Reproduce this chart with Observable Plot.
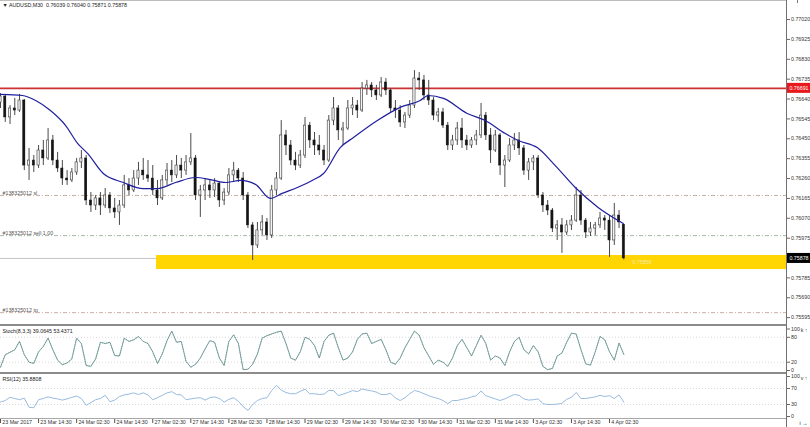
<!DOCTYPE html>
<html><head><meta charset="utf-8">
<script src="https://cdn.jsdelivr.net/npm/d3@7"></script>
<script src="https://cdn.jsdelivr.net/npm/@observablehq/plot@0.6"></script>
<style>
html,body{margin:0;padding:0;background:#fff;}
#chart{position:relative;width:810px;height:427px;overflow:hidden;background:#fff;}
.panel{position:absolute;left:0;}
.line{position:absolute;}
</style></head><body><div id="chart"></div>
<script>
// ---------- DATA ----------
const symbol = "AUDUSD,M30";
const opens = [0.76623,0.76652,0.76552,0.76595,0.76585,0.76633,0.76322,0.76346,0.76322,0.76394,
0.76356,0.76442,0.76346,0.76308,0.76260,0.76251,0.76289,0.76337,0.76356,0.76155,
0.76131,0.76165,0.76131,0.76179,0.76117,0.76098,0.76131,0.76227,0.76203,0.76260,
0.76298,0.76275,0.76260,0.76203,0.76165,0.76251,0.76298,0.76275,0.76322,0.76298,
0.76337,0.76356,0.76179,0.76203,0.76227,0.76203,0.76236,0.76155,0.76193,0.76275,
0.76298,0.76260,0.76179,0.76036,0.75940,0.76012,0.76050,0.75988,0.76203,0.76260,
0.76466,0.76418,0.76346,0.76322,0.76370,0.76513,0.76442,0.76418,0.76394,0.76346,
0.76537,0.76595,0.76490,0.76499,0.76595,0.76609,0.76585,0.76690,0.76705,0.76681,
0.76657,0.76719,0.76681,0.76595,0.76585,0.76528,0.76561,0.76609,0.76738,0.76729,
0.76657,0.76633,0.76561,0.76576,0.76513,0.76418,0.76442,0.76499,0.76442,0.76418,
0.76442,0.76466,0.76561,0.76466,0.76394,0.76466,0.76322,0.76346,0.76418,0.76442,
0.76404,0.76298,0.76337,0.76356,0.76179,0.76131,0.76107,0.76021,0.76036,0.76002,
0.76036,0.76059,0.76179,0.76059,0.76002,0.76021,0.76036,0.76069,0.76059,0.75964,
0.76083,0.76039];
const highs = [0.76666,0.76657,0.76609,0.76643,0.76662,0.76638,0.76404,0.76370,0.76418,0.76442,
0.76499,0.76466,0.76385,0.76346,0.76298,0.76308,0.76356,0.76394,0.76370,0.76193,
0.76179,0.76193,0.76212,0.76193,0.76165,0.76155,0.76275,0.76260,0.76298,0.76337,
0.76356,0.76346,0.76322,0.76251,0.76275,0.76332,0.76346,0.76370,0.76356,0.76370,
0.76475,0.76370,0.76227,0.76260,0.76251,0.76260,0.76241,0.76212,0.76308,0.76337,
0.76308,0.76289,0.76193,0.76050,0.76050,0.76083,0.76069,0.76227,0.76289,0.76537,
0.76490,0.76442,0.76385,0.76394,0.76552,0.76528,0.76480,0.76466,0.76418,0.76561,
0.76647,0.76609,0.76528,0.76633,0.76647,0.76633,0.76719,0.76729,0.76719,0.76705,
0.76743,0.76738,0.76690,0.76633,0.76609,0.76576,0.76633,0.76776,0.76767,0.76753,
0.76729,0.76647,0.76595,0.76595,0.76528,0.76466,0.76528,0.76547,0.76466,0.76456,
0.76490,0.76619,0.76576,0.76499,0.76490,0.76475,0.76370,0.76451,0.76475,0.76480,
0.76418,0.76356,0.76370,0.76370,0.76193,0.76155,0.76117,0.76059,0.76069,0.76059,
0.76083,0.76217,0.76203,0.76069,0.76050,0.76050,0.76098,0.76083,0.76083,0.76141,
0.76107,0.76040];
const lows = [0.76595,0.76528,0.76518,0.76561,0.76576,0.76298,0.76251,0.76289,0.76308,0.76322,
0.76346,0.76322,0.76289,0.76227,0.76227,0.76241,0.76275,0.76308,0.76131,0.76098,
0.76107,0.76083,0.76117,0.76093,0.76069,0.76036,0.76117,0.76179,0.76193,0.76227,
0.76251,0.76241,0.76179,0.76131,0.76155,0.76227,0.76241,0.76260,0.76260,0.76275,
0.76322,0.76155,0.76074,0.76155,0.76165,0.76169,0.76122,0.76131,0.76179,0.76241,
0.76241,0.76155,0.76021,0.75868,0.75926,0.75988,0.75964,0.75973,0.76179,0.76251,
0.76370,0.76322,0.76298,0.76308,0.76356,0.76404,0.76370,0.76370,0.76322,0.76337,
0.76513,0.76442,0.76418,0.76490,0.76561,0.76547,0.76576,0.76657,0.76647,0.76633,
0.76647,0.76657,0.76576,0.76547,0.76504,0.76499,0.76547,0.76595,0.76681,0.76633,
0.76609,0.76537,0.76528,0.76499,0.76394,0.76394,0.76418,0.76404,0.76394,0.76404,
0.76418,0.76451,0.76442,0.76332,0.76385,0.76275,0.76217,0.76337,0.76394,0.76370,
0.76275,0.76251,0.76298,0.76165,0.76098,0.76083,0.76002,0.75964,0.75902,0.75988,
0.76012,0.76050,0.76036,0.75973,0.75983,0.75988,0.76021,0.76012,0.75883,0.75940,
0.76021,0.75871];
const closes = [0.76652,0.76552,0.76595,0.76585,0.76633,0.76322,0.76346,0.76322,0.76394,0.76356,
0.76442,0.76346,0.76308,0.76260,0.76251,0.76289,0.76337,0.76356,0.76155,0.76131,
0.76165,0.76131,0.76179,0.76117,0.76098,0.76131,0.76227,0.76203,0.76260,0.76298,
0.76275,0.76260,0.76203,0.76165,0.76251,0.76298,0.76275,0.76322,0.76298,0.76337,
0.76356,0.76179,0.76203,0.76227,0.76203,0.76236,0.76155,0.76193,0.76275,0.76298,
0.76260,0.76179,0.76036,0.75940,0.76012,0.76050,0.75988,0.76203,0.76260,0.76466,
0.76418,0.76346,0.76322,0.76370,0.76513,0.76442,0.76418,0.76394,0.76346,0.76537,
0.76595,0.76490,0.76499,0.76595,0.76609,0.76585,0.76690,0.76705,0.76681,0.76657,
0.76719,0.76681,0.76595,0.76585,0.76528,0.76561,0.76609,0.76738,0.76729,0.76657,
0.76633,0.76561,0.76576,0.76513,0.76418,0.76442,0.76499,0.76442,0.76418,0.76442,
0.76466,0.76561,0.76466,0.76394,0.76466,0.76322,0.76346,0.76418,0.76442,0.76404,
0.76298,0.76337,0.76356,0.76179,0.76131,0.76107,0.76021,0.76036,0.76002,0.76036,
0.76059,0.76179,0.76059,0.76002,0.76021,0.76036,0.76069,0.76059,0.75964,0.76083,
0.76050,0.75878];

// moving average, positions in candle index units
const maIdx = [0,4.6,7.4,10.5,13.7,16.2,18.3,21.6,25.8,30,33,36.8,41,44.1,47.3,50.4,53.6,56.7,59.2,62.4,65.5,67.9,71.4,74.2,79.2,84,88.2,89.9,93.1,98.1,101.9,106.1,108.8,112.8,116.6,120.8,125.6,130.9];
const maVals = [0.76662,0.76657,0.76633,0.76585,0.76513,0.76428,0.76380,0.76284,0.76241,0.76212,0.76212,0.76241,0.76265,0.76255,0.76241,0.76251,0.76232,0.76165,0.76189,0.76217,0.76251,0.76284,0.76408,0.76456,0.76537,0.76600,0.76633,0.76657,0.76643,0.76571,0.76537,0.76475,0.76442,0.76408,0.76322,0.76217,0.76122,0.76045];

const stochK = [8,38,44,50,70,38,20,17,45,58,
78,50,25,14,18,28,78,65,12,10,
28,68,65,68,36,35,78,70,74,82,
70,65,45,17,40,72,95,68,70,22,
8,15,30,52,72,68,30,12,70,86,
65,2,3,15,40,78,84,88,92,95,
65,30,25,45,80,75,60,30,70,85,
90,55,25,30,45,75,88,90,65,70,
75,50,20,15,30,55,75,95,85,55,
35,15,25,20,10,30,60,75,55,35,
60,85,65,25,35,30,12,45,70,80,
50,40,60,45,10,2,5,35,42,68,
90,88,50,16,13,45,82,74,45,25,
66,39];
const rsiVals = [36,40,48,45,42,46,23,22,42,45,
49,46,44,41,44,48,51,45,28,35,
42,45,53,37,41,50,54,56,59,55,
59,54,42,47,53,59,62,55,54,42,
44,46,47,41,47,49,45,36,43,47,
38,25,15,30,40,45,47,65,78,66,
60,57,57,63,68,57,57,55,56,65,
65,52,56,60,65,62,69,66,64,61,
55,55,58,46,40,47,57,65,62,57,
52,48,45,40,32,40,40,43,45,49,
52,64,52,48,44,40,44,50,55,53,
44,41,42,44,32,30,30,31,33,43,
48,60,45,45,47,49,53,50,52,45,
54,36];
const stochTitle = "Stoch(8,3,3) 39.0645 53.4371";
const rsiTitle = "RSI(12) 35.8808";

const resistance = [0.76691];
const bidPrice = [0.75878];
const orderNames = ["#138325012 sl", "#138325012 sell 1.00", "#138325012 tp"];
const orderPrices = [0.76179, 0.75987, 0.75619];
const orderKinds = ["sl", "open", "tp"];
const zoneStart = [32.8];
const zoneHigh = [0.75892];
const zoneLow = [0.75825];
const zoneText = ["0.75858"];

const priceTicks = [0.77020,0.76925,0.76830,0.76735,0.76640,0.76545,0.76450,0.76355,0.76260,0.76165,0.76070,0.75975,0.75880,0.75785,0.75690,0.75595];
const dateTicks = [0,8,16,24,32,40,48,56,64,72,80,88,96,104,112,120,128];
const dateLabels = ["23 Mar 2017","23 Mar 14:30","24 Mar 02:30","24 Mar 14:30","27 Mar 02:30","27 Mar 14:30","28 Mar 02:30","28 Mar 14:30","29 Mar 02:30","29 Mar 14:30","30 Mar 02:30","30 Mar 14:30","31 Mar 02:30","31 Mar 14:30","3 Apr 02:30","3 Apr 14:30","4 Apr 02:30"];
const stochLevels = [80, 20];
const stochTicks = [100, 80, 20, 0];
const rsiLevels = [70, 30];
const rsiTicks = [100, 70, 30, 0];

// ---------- BUILD ----------
const CANDLE_PX = 4.758;
const PLOT_W = 786;
const XMAX = PLOT_W / CANDLE_PX;
const PX = 1 / CANDLE_PX; // one pixel in x units
const candles = opens.map((o, i) => ({i, o, h: highs[i], l: lows[i], c: closes[i]}));
const ma = maIdx.map((x, k) => ({x, y: maVals[k]}));
const stoch = stochK.map((k, i) => ({i, k}));
const rsi = rsiVals.map((v, i) => ({i, v}));
const orders = orderNames.map((name, k) => ({name, price: orderPrices[k], kind: orderKinds[k]}));
const zones = zoneStart.map((s, k) => ({s, hi: zoneHigh[k], lo: zoneLow[k], t: zoneText[k]}));
const last = candles[candles.length - 1];
const header = `\u25BC ${symbol}  ${last.o.toFixed(5)} ${last.h.toFixed(5)} ${last.l.toFixed(5)} ${last.c.toFixed(5)}`;
const FONT = "Liberation Sans, Arial, sans-serif";
const baseStyle = {fontFamily: FONT, fontSize: "5.3px", background: "transparent", overflow: "visible", color: "#222"};
const PPX = 0.0000478; // price per pixel in main panel
const mainH = 324;
const yTop = 0.77111;

const main = Plot.plot({
  width: 810, height: mainH, marginTop: 0, marginRight: 24, marginBottom: 0, marginLeft: 0,
  x: {domain: [0, XMAX], axis: null},
  y: {domain: [yTop - mainH * PPX, yTop], axis: null},
  style: baseStyle,
  marks: [
    Plot.ruleY(bidPrice, {x1: 0, x2: XMAX, stroke: "#c4c4c4", strokeWidth: 1}),
    Plot.rect(zones, {x1: "s", x2: XMAX, y1: "lo", y2: "hi", fill: "#ffd502"}),
    Plot.text(zones, {x: d => d.s + 100, y: d => (d.hi + d.lo) / 2, text: "t", fill: "#f6eaa8", textAnchor: "start"}),
    Plot.ruleY(orders.filter(d => d.kind !== "open"), {y: "price", stroke: "#c39a8c", strokeWidth: 0.8, strokeDasharray: "4,2,1,2"}),
    Plot.ruleY(orders.filter(d => d.kind === "open"), {y: "price", stroke: "#8ea48e", strokeWidth: 0.8, strokeDasharray: "4,2,1,2"}),
    Plot.text(orders, {x: 0, y: "price", text: "name", textAnchor: "start", lineAnchor: "middle", dx: 2, dy: -2.6, fill: "#555"}),
    Plot.ruleY(resistance, {stroke: "#cc3333", strokeWidth: 1.6}),
    Plot.ruleX(candles, {x: "i", y1: "l", y2: "h", stroke: "#4a4a4a", strokeWidth: 1}),
    Plot.rect(candles.filter(d => d.c >= d.o), {x1: d => d.i - 0.23, x2: d => d.i + 0.23, y1: "o", y2: "c", fill: "#f4f4f4", stroke: "#3a3a3a", strokeWidth: 0.6}),
    Plot.rect(candles.filter(d => d.c < d.o), {x1: d => d.i - 0.23, x2: d => d.i + 0.23, y1: "o", y2: "c", fill: "#151515", stroke: "#151515", strokeWidth: 0.5}),
    Plot.line(ma, {x: "x", y: "y", stroke: "#1f1f9e", strokeWidth: 1.2, curve: "monotone-x"}),
    Plot.axisY({anchor: "right", ticks: priceTicks, tickSize: 3, tickPadding: 1.5, tickFormat: d => d.toFixed(5), stroke: "#666", fill: "#333"}),
    Plot.rect(resistance, {x1: XMAX + 0.3 * PX, x2: XMAX + 24 * PX, y1: d => d - 5 * PPX, y2: d => d + 5 * PPX, fill: "#e8191c"}),
    Plot.text(resistance, {x: XMAX + 12.5 * PX, y: d => d, text: d => d.toFixed(5), fill: "white"}),
    Plot.rect(bidPrice, {x1: XMAX + 0.3 * PX, x2: XMAX + 24 * PX, y1: d => d - 5 * PPX, y2: d => d + 5 * PPX, fill: "#000"}),
    Plot.text(bidPrice, {x: XMAX + 12.5 * PX, y: d => d, text: d => d.toFixed(5), fill: "white"}),
    Plot.text([header], {frameAnchor: "top-left", text: d => d, textAnchor: "start", lineAnchor: "middle", dx: 2, dy: 4.6, fill: "#222"})
  ]
});

const stochPlot = Plot.plot({
  width: 810, height: 48, marginTop: 3.5, marginRight: 24, marginBottom: 3, marginLeft: 0,
  x: {domain: [0, XMAX], axis: null},
  y: {domain: [0, 100], axis: null},
  style: baseStyle,
  marks: [
    Plot.ruleY(stochLevels, {stroke: "#cfcfcf", strokeDasharray: "1,2", strokeWidth: 0.8}),
    Plot.line(stoch, {x: "i", y: "k", stroke: "#58c4bd", strokeWidth: 0.7}),
    Plot.line(stoch, {x: "i", y: "k", stroke: "#7a7a7a", strokeWidth: 0.8, strokeDasharray: "1,1.3"}),
    Plot.axisY({anchor: "right", ticks: stochTicks, tickSize: 3, tickPadding: 1.5, stroke: "#666", fill: "#333"}),
    Plot.text([stochTitle], {frameAnchor: "top-left", text: d => d, textAnchor: "start", lineAnchor: "middle", dx: 2, dy: 1.8, fill: "#222"})
  ]
});

const rsiPlot = Plot.plot({
  width: 810, height: 54, marginTop: 3, marginRight: 24, marginBottom: 9, marginLeft: 0,
  x: {domain: [0, XMAX], axis: null},
  y: {domain: [-5, 100], axis: null},
  style: baseStyle,
  marks: [
    Plot.ruleY(rsiLevels, {stroke: "#cfcfcf", strokeDasharray: "1,2", strokeWidth: 0.8}),
    Plot.line(rsi, {x: "i", y: "v", stroke: "#8cb3da", strokeWidth: 0.9}),
    Plot.axisY({anchor: "right", ticks: rsiTicks, tickSize: 3, tickPadding: 1.5, stroke: "#666", fill: "#333"}),
    Plot.text([rsiTitle], {frameAnchor: "top-left", text: d => d, textAnchor: "start", lineAnchor: "middle", dx: 2, dy: 2.3, fill: "#222"}),
    Plot.axisX({anchor: "bottom", ticks: dateTicks, tickSize: 5, tickFormat: () => "", stroke: "#555"}),
    Plot.text(dateTicks, {x: d => d, text: (d, i) => dateLabels[i], frameAnchor: "bottom", textAnchor: "start", lineAnchor: "middle", dx: 1.8, dy: 3.7, fill: "#333"})
  ]
});

const chart = document.getElementById("chart");
function place(el, top) { el.classList.add("panel"); el.style.top = top + "px"; chart.appendChild(el); }
place(main, 0);
place(stochPlot, 325);
place(rsiPlot, 373);
function line(left, top, w, h, color) {
  const d = document.createElement("div");
  d.className = "line";
  Object.assign(d.style, {left: left + "px", top: top + "px", width: w + "px", height: h + "px", background: color});
  chart.appendChild(d);
}
line(0, 0, PLOT_W, 1, "#bdbdbd");
line(0, 324, PLOT_W, 2, "#8c8c8c");
line(0, 372, PLOT_W, 2, "#8c8c8c");
line(0, 418, PLOT_W, 1, "#a8a8a8");
line(PLOT_W, 0, 1, 427, "#707070");
line(797, 0, 1, 3, "#777");
</script></body></html>
